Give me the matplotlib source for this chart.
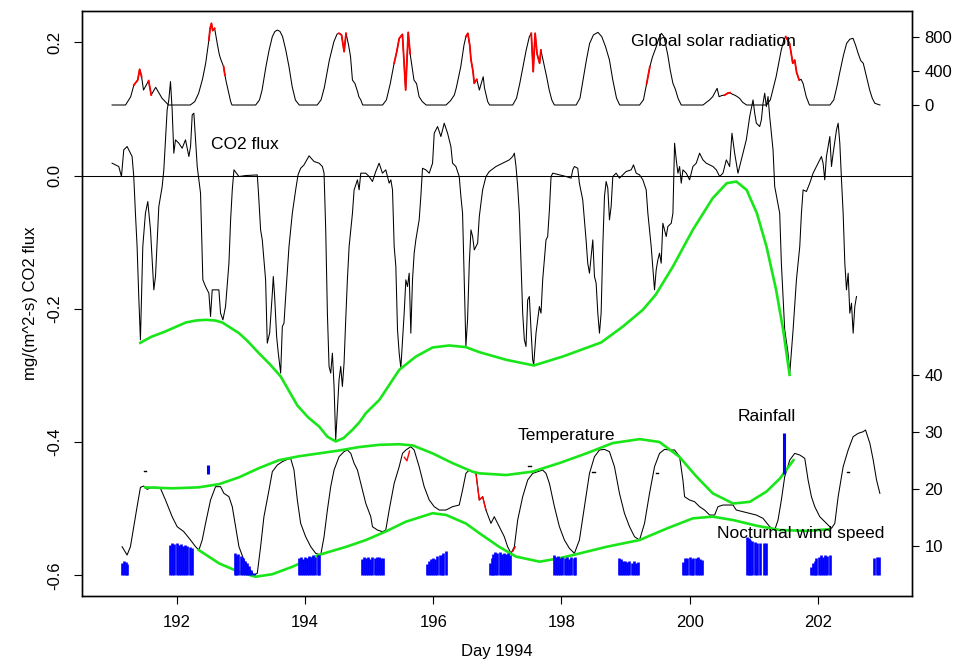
import numpy as np
import matplotlib
matplotlib.use("Agg")
import matplotlib.pyplot as plt

plt.rcParams['font.family'] = ['Liberation Sans', 'DejaVu Sans']
plt.rcParams['font.size'] = 12

# ---- CO2 flux, mg/(m^2-s) ----
co2_day = [190.99, 191.094, 191.136, 191.172, 191.224, 191.276, 191.302, 191.328, 191.354, 191.38,
           191.406, 191.432, 191.469, 191.51, 191.547, 191.589, 191.641, 191.667, 191.719, 191.771,
           191.797, 191.849, 191.875, 191.901, 191.927, 191.953, 191.979, 192.031, 192.083, 192.135,
           192.188, 192.214, 192.24, 192.266, 192.292, 192.318, 192.344, 192.37, 192.406, 192.448,
           192.5, 192.526, 192.552, 192.604, 192.656, 192.682, 192.719, 192.76, 192.813, 192.839,
           192.865, 192.891, 192.969, 193.073, 193.255, 193.271, 193.307, 193.333, 193.385, 193.411,
           193.448, 193.49, 193.505, 193.526, 193.557, 193.583, 193.62, 193.646, 193.672, 193.698,
           193.75, 193.802, 193.854, 193.891, 193.932, 193.984, 194.063, 194.141, 194.219, 194.271,
           194.297, 194.323, 194.349, 194.375, 194.401, 194.427, 194.453, 194.479, 194.505, 194.531,
           194.557, 194.583, 194.609, 194.635, 194.661, 194.688, 194.74, 194.766, 194.818, 194.844,
           194.87, 194.948, 195.0, 195.052, 195.104, 195.156, 195.208, 195.26, 195.313, 195.339,
           195.365, 195.391, 195.417, 195.443, 195.469, 195.495, 195.547, 195.573, 195.599, 195.625,
           195.651, 195.677, 195.703, 195.729, 195.781, 195.807, 195.833, 195.885, 195.938, 195.99,
           196.016, 196.068, 196.12, 196.172, 196.224, 196.276, 196.302, 196.354, 196.406, 196.432,
           196.458, 196.484, 196.51, 196.536, 196.563, 196.589, 196.615, 196.641, 196.693, 196.719,
           196.771, 196.823, 196.875, 196.979, 197.083, 197.188, 197.24, 197.266, 197.292, 197.318,
           197.344, 197.37, 197.396, 197.422, 197.448, 197.474, 197.5, 197.526, 197.552, 197.568,
           197.604, 197.656, 197.682, 197.708, 197.76, 197.786, 197.813, 197.839, 197.865, 197.969,
           198.073, 198.151, 198.177, 198.203, 198.255, 198.281, 198.333, 198.385, 198.411, 198.438,
           198.49, 198.516, 198.542, 198.568, 198.594, 198.62, 198.646, 198.672, 198.698, 198.724,
           198.75, 198.776, 198.802, 198.854, 198.906, 198.958, 199.01, 199.089, 199.125, 199.167,
           199.219, 199.271, 199.323, 199.349, 199.401, 199.453, 199.479, 199.505, 199.531, 199.557,
           199.583, 199.635, 199.661, 199.714, 199.74, 199.766, 199.792, 199.818, 199.844, 199.87,
           199.896, 199.948, 200.0, 200.052, 200.104, 200.156, 200.208, 200.26, 200.365, 200.417,
           200.469, 200.521, 200.573, 200.625, 200.661, 200.703, 200.755, 200.781, 200.833, 200.885,
           200.938, 200.99, 201.016, 201.042, 201.094, 201.12, 201.146, 201.172, 201.198, 201.224,
           201.25, 201.302, 201.328, 201.406, 201.432, 201.458, 201.484, 201.536, 201.563, 201.615,
           201.667, 201.719, 201.745, 201.771, 201.823, 201.875, 201.927, 201.979, 202.031, 202.057,
           202.083, 202.109, 202.135, 202.188, 202.214, 202.24, 202.292, 202.318, 202.344, 202.37,
           202.396, 202.422, 202.448, 202.474, 202.5, 202.526, 202.552, 202.578, 202.604]
co2_flux = [0.0186, 0.0136, -0.0014, 0.0386, 0.0436, 0.0336, 0.0286, -0.0014, -0.0565, -0.1065,
            -0.1815, -0.2465, -0.1065, -0.0565, -0.039, -0.0815, -0.1715, -0.1515, -0.0465, -0.0165,
            0.0086, 0.0986, 0.1136, 0.1411, 0.0986, 0.0336, 0.0536, 0.0486, 0.041, 0.0536,
            0.0286, 0.0436, 0.0911, 0.0936, 0.0536, 0.0136, -0.0064, -0.0265, -0.1565, -0.1665,
            -0.1765, -0.2115, -0.1715, -0.1715, -0.1715, -0.2065, -0.2165, -0.1965, -0.1315, -0.0665,
            -0.0215, 0.0086, -0.0014, 0.0, 0.001, -0.0215, -0.0815, -0.0965, -0.1565, -0.2515,
            -0.2365, -0.1765, -0.1515, -0.1815, -0.2415, -0.2665, -0.2965, -0.2265, -0.2215, -0.1815,
            -0.1065, -0.0565, -0.0215, 0.001, 0.011, 0.016, 0.0296, 0.0211, 0.0186, 0.0136,
            0.0036, -0.0815, -0.2065, -0.2865, -0.2965, -0.2665, -0.3165, -0.3965, -0.3515, -0.3065,
            -0.2865, -0.3165, -0.2815, -0.2165, -0.1565, -0.1065, -0.0565, -0.0215, -0.0064, -0.0214,
            0.0036, 0.0036, -0.0014, -0.0089, 0.0061, 0.0186, 0.0036, 0.0086, -0.0114, -0.0064,
            -0.0215, -0.1065, -0.1365, -0.2315, -0.2665, -0.289, -0.2065, -0.1565, -0.1665, -0.1465,
            -0.2365, -0.1565, -0.1165, -0.0965, -0.0665, -0.0315, 0.011, 0.0086, 0.0036, 0.0186,
            0.0636, 0.0736, 0.0586, 0.0786, 0.0636, 0.0436, 0.0186, 0.0136, -0.0014, -0.0315,
            -0.0565, -0.1565, -0.2565, -0.2165, -0.1315, -0.0815, -0.0915, -0.1115, -0.1015, -0.0615,
            -0.0215, -0.0014, 0.0061, 0.0136, 0.0186, 0.0236, 0.0286, 0.0336, 0.0136, -0.0165,
            -0.0565, -0.1315, -0.2065, -0.2465, -0.2565, -0.1865, -0.1815, -0.2315, -0.2765, -0.284,
            -0.2365, -0.1965, -0.2065, -0.1565, -0.0965, -0.0915, -0.0515, -0.0014, 0.0036, 0.0011,
            -0.0014, -0.0039, 0.0086, 0.0136, 0.011, -0.0115, -0.0365, -0.0965, -0.1315, -0.1465,
            -0.0965, -0.1515, -0.1615, -0.2065, -0.2365, -0.2065, -0.1065, -0.0315, -0.0089, -0.0189,
            -0.0665, -0.0465, -0.0014, 0.0036, -0.0039, 0.0011, 0.0061, 0.0086, 0.0161, 0.0036,
            0.0011, -0.0064, -0.0215, -0.0565, -0.1065, -0.1715, -0.1415, -0.1265, -0.1165, -0.1315,
            -0.0715, -0.0915, -0.0765, -0.0715, -0.0565, 0.0486, 0.0236, 0.0036, 0.0136, -0.0114,
            0.0086, 0.0036, -0.0064, 0.0136, 0.0186, 0.0336, 0.0236, 0.0186, 0.0136, 0.0086,
            -0.0014, 0.0036, 0.0236, 0.0136, 0.0636, 0.0336, 0.0036, 0.0136, 0.0336, 0.0536,
            0.0886, 0.1136, 0.0936, 0.0786, 0.0736, 0.0836, 0.1086, 0.1236, 0.1036, 0.1186,
            0.0886, 0.0386, -0.0164, -0.0565, -0.1315, -0.1815, -0.2315, -0.2665, -0.2965, -0.2315,
            -0.1565, -0.1065, -0.0565, -0.0215, -0.0239, -0.0114, 0.0036, 0.0136, 0.0236, 0.0286,
            0.0186, -0.0064, 0.0286, 0.0586, 0.0136, 0.0336, 0.0686, 0.0786, 0.0486, -0.0064,
            -0.0565, -0.1315, -0.1715, -0.1465, -0.2065, -0.1915, -0.2365, -0.1965, -0.1815]

# smooth envelope through the daily CO2 minima
co2_env_day = [191.43, 191.6, 191.82, 192.14, 192.3, 192.45, 192.6, 192.71, 192.97, 193.1,
               193.28, 193.45, 193.62, 193.88, 194.05, 194.22, 194.35, 194.48, 194.6, 194.74,
               194.85, 194.95, 195.16, 195.47, 195.73, 195.99, 196.25, 196.51, 196.72, 197.14,
               197.57, 198.02, 198.62, 198.96, 199.27, 199.47, 199.74, 200.05, 200.36, 200.58,
               200.73, 200.89, 201.05, 201.2, 201.35, 201.46, 201.56]
co2_env = [-0.251, -0.242, -0.234, -0.2205, -0.2175, -0.2165, -0.2175, -0.2205, -0.2365, -0.248,
           -0.2665, -0.283, -0.3015, -0.345, -0.363, -0.3766, -0.392, -0.399, -0.394, -0.3815,
           -0.370, -0.3565, -0.3366, -0.2915, -0.2716, -0.258, -0.255, -0.2575, -0.265, -0.2765,
           -0.285, -0.2716, -0.2505, -0.2265, -0.2015, -0.179, -0.1365, -0.0815, -0.034, -0.0114,
           -0.009, -0.0215, -0.0565, -0.1065, -0.1715, -0.2315, -0.299]

# ---- global solar radiation, W/m^2 ----
solar_day = [190.99, 191.20, 191.28, 191.33, 191.39, 191.42, 191.45, 191.48, 191.56, 191.60,
             191.67, 191.77, 191.87,
             192.21, 192.28, 192.34, 192.40, 192.45, 192.50, 192.52, 192.54, 192.56, 192.59, 192.63,
             192.66, 192.68, 192.73, 192.75, 192.77, 192.81, 192.84, 192.86,
             193.23, 193.29, 193.33, 193.39, 193.44, 193.49, 193.53, 193.57, 193.61, 193.65, 193.70,
             193.75, 193.80, 193.85, 193.91,
             194.19, 194.25, 194.30, 194.38, 194.45, 194.50, 194.53, 194.57, 194.61, 194.64, 194.68,
             194.71, 194.74, 194.78, 194.82, 194.84, 194.87, 194.90,
             195.21, 195.27, 195.33, 195.39, 195.43, 195.47, 195.52, 195.57, 195.61, 195.64, 195.67,
             195.70, 195.74, 195.78, 195.83, 195.89,
             196.20, 196.27, 196.33, 196.36, 196.43, 196.48, 196.51, 196.54, 196.57, 196.59, 196.62,
             196.64, 196.68, 196.72, 196.78, 196.80, 196.82, 196.85, 196.88,
             197.24, 197.30, 197.35, 197.40, 197.45, 197.50, 197.53, 197.56, 197.59, 197.62, 197.66,
             197.68, 197.73, 197.77, 197.81, 197.85, 197.89,
             198.23, 198.29, 198.34, 198.39, 198.44, 198.50, 198.57, 198.63, 198.69, 198.75, 198.80,
             198.86, 198.91,
             199.22, 199.28, 199.33, 199.38, 199.42, 199.48, 199.52, 199.56, 199.60, 199.66, 199.70,
             199.74, 199.78, 199.82, 199.87,
             200.21, 200.26, 200.31, 200.36, 200.43, 200.46, 200.50, 200.55, 200.60, 200.63, 200.67,
             200.70, 200.74, 200.78, 200.83, 200.89,
             201.20, 201.26, 201.30, 201.35, 201.43, 201.47, 201.50, 201.53, 201.56, 201.61, 201.64,
             201.67, 201.71, 201.74, 201.77, 201.82, 201.87,
             202.19, 202.25, 202.30, 202.34, 202.40, 202.45, 202.50, 202.55, 202.59, 202.63, 202.67,
             202.71, 202.76, 202.81, 202.85, 202.89, 202.97]
solar_wm2 = [0, 0, 97, 234, 292, 418, 331, 175, 285, 117,
             207, 78, 0,
             0, 40, 137, 300, 488, 760, 900, 956, 870, 897, 721,
             600, 546, 448, 350, 273, 137, 40, 0,
             0, 60, 175, 448, 643, 800, 860, 877, 860, 800, 643,
             448, 214, 58, 0,
             0, 60, 200, 526, 740, 830, 839, 820, 624, 839, 700,
             565, 292, 250, 156, 97, 60, 0,
             0, 60, 250, 488, 620, 780, 827, 175, 850, 600, 448,
             292, 250, 97, 40, 0,
             0, 50, 117, 200, 448, 700, 800, 839, 700, 526, 400,
             254, 300, 175, 331, 200, 137, 40, 0,
             0, 80, 250, 448, 640, 800, 839, 390, 839, 600, 488,
             643, 468, 330, 175, 60, 0,
             0, 80, 300, 526, 720, 820, 850, 800, 680, 526, 300,
             80, 0,
             0, 60, 250, 448, 560, 682, 780, 839, 800, 585, 400,
             254, 180, 78, 0,
             0, 30, 58, 97, 195, 97, 110, 117, 140, 144, 125,
             117, 100, 78, 30, 0,
             0, 60, 180, 331, 643, 760, 800, 760, 721, 488, 526,
             380, 292, 300, 254, 97, 0,
             0, 60, 220, 370, 580, 721, 770, 780, 700, 604, 520,
             488, 330, 175, 80, 20, 0]

# red highlighted parts of the radiation trace (gaps marked with nan)
nan = np.nan
solar_red_day = [191.33, 191.39, 191.42, 191.45, nan, 191.56, 191.60, nan,
                 192.50, 192.52, 192.54, 192.56, 192.59, nan, 192.73, 192.75, nan,
                 194.53, 194.57, 194.61, 194.64, nan,
                 195.39, 195.43, 195.47, 195.52, 195.57, 195.61, 195.64, nan,
                 196.51, 196.54, 196.57, 196.59, 196.62, 196.64, 196.68, nan,
                 197.53, 197.56, 197.59, 197.62, 197.66, 197.68, nan,
                 199.33, 199.38, nan, 200.55, 200.60, 200.63, nan,
                 201.50, 201.53, 201.56, 201.61, 201.64, 201.67, 201.71]
solar_red = [234, 292, 418, 331, nan, 285, 117, nan,
             760, 900, 956, 870, 897, nan, 448, 350, nan,
             839, 820, 624, 839, nan,
             488, 620, 780, 827, 175, 850, 600, nan,
             800, 839, 700, 526, 400, 254, 300, nan,
             839, 390, 839, 600, 488, 643, nan,
             250, 448, nan, 117, 140, 144, nan,
             800, 760, 721, 488, 526, 380, 292]

# ---- air temperature, deg C ----
temp_day = [191.146, 191.224, 191.276, 191.328, 191.38, 191.432, 191.484, 191.536, 191.615, 191.693,
            191.745, 191.823, 191.927, 192.005, 192.109, 192.214, 192.292, 192.344, 192.396, 192.448,
            192.526, 192.604, 192.682, 192.734, 192.813, 192.865, 192.917, 192.969, 193.047, 193.125,
            193.203, 193.255, 193.307, 193.359, 193.438, 193.49, 193.568, 193.646, 193.724, 193.776,
            193.828, 193.88, 193.932, 194.01, 194.089, 194.167, 194.245, 194.297, 194.349, 194.401,
            194.453, 194.531, 194.609, 194.661, 194.714, 194.766, 194.818, 194.87, 194.948, 195.026,
            195.052, 195.13, 195.208, 195.26, 195.313, 195.391, 195.469, 195.521, 195.573, 195.651,
            195.703, 195.781, 195.859, 195.938, 196.016, 196.094, 196.198, 196.302, 196.406, 196.458,
            196.51, 196.563, 196.667, 196.719, 196.771, 196.823, 196.901, 196.953, 197.031, 197.109,
            197.161, 197.214, 197.266, 197.318, 197.396, 197.474, 197.552, 197.63, 197.708, 197.76,
            197.813, 197.891, 197.969, 198.047, 198.125, 198.203, 198.281, 198.359, 198.438, 198.516,
            198.594, 198.672, 198.75, 198.828, 198.906, 198.984, 199.063, 199.141, 199.219, 199.297,
            199.375, 199.453, 199.531, 199.609, 199.688, 199.766, 199.844, 199.896, 199.922, 200.0,
            200.078, 200.156, 200.234, 200.313, 200.391, 200.443, 200.521, 200.677, 200.729, 200.833,
            200.938, 201.042, 201.146, 201.25, 201.328, 201.38, 201.432, 201.484, 201.563, 201.641,
            201.719, 201.797, 201.849, 201.901, 201.953, 202.031, 202.109, 202.161, 202.214, 202.266,
            202.318, 202.396, 202.474, 202.552, 202.63, 202.708, 202.745, 202.813, 202.865, 202.917,
            202.969]
temp_c = [9.83, 8.37, 9.83, 13.34, 16.85, 20.24, 20.47, 19.89, 20.24, 20.24,
          20.06, 18.02, 15.09, 13.34, 12.46, 11.0, 9.83, 9.24, 11.0, 13.92,
          18.02, 20.36, 20.36, 19.19, 18.6, 16.85, 13.34, 9.83, 7.49, 6.03,
          4.86, 5.15, 9.83, 15.09, 19.77, 22.99, 24.16, 24.74, 25.15, 25.33,
          23.28, 18.02, 13.92, 11.58, 9.83, 8.66, 8.37, 11.58, 16.26, 20.36,
          23.28, 25.62, 26.5, 26.79, 26.2, 24.45, 23.28, 20.94, 17.43, 15.09,
          13.34, 12.75, 12.46, 12.75, 16.26, 20.94, 23.86, 26.2, 26.79, 27.37,
          26.79, 23.86, 20.36, 18.02, 16.85, 16.26, 16.26, 16.85, 17.14, 19.77,
          22.69, 23.28, 22.69, 18.02, 18.6, 16.26, 13.92, 15.09, 13.34, 11.58,
          9.83, 8.66, 9.83, 14.51, 18.6, 21.52, 22.69, 22.99, 23.28, 22.69,
          20.94, 16.85, 13.34, 11.0, 9.54, 8.66, 11.0, 16.85, 22.69, 25.62,
          26.79, 26.9, 26.5, 23.86, 19.19, 15.68, 13.34, 11.58, 11.0, 13.92,
          19.19, 23.86, 26.2, 26.9, 26.79, 26.79, 25.62, 21.52, 18.6, 18.02,
          17.72, 16.85, 16.26, 15.38, 15.38, 16.85, 17.14, 17.14, 16.26, 15.97,
          15.68, 15.38, 14.8, 13.34, 12.75, 14.51, 18.02, 22.11, 25.03, 26.2,
          25.91, 25.33, 21.52, 18.6, 16.85, 15.09, 14.21, 13.63, 13.05, 13.92,
          18.6, 23.86, 26.79, 29.13, 29.71, 30.0, 30.3, 27.96, 25.03, 21.52,
          19.19]

temp_red_day = [195.55, 195.59, 195.63, nan, 196.667, 196.719, 196.771, 196.823, nan, 197.24, 197.28]
temp_red = [25.5, 24.9, 26.6, nan, 22.69, 18.02, 18.6, 16.26, nan, 9.0, 9.8]

temp_max_day = [191.51, 191.93, 192.34, 192.66, 192.97, 193.28, 193.59, 193.91, 194.22, 194.53,
                194.84, 195.16, 195.47, 195.68, 195.99, 196.3, 196.61, 196.72, 197.14, 197.55,
                197.97, 198.39, 198.8, 199.22, 199.53, 199.84, 200.11, 200.36, 200.68, 200.94,
                201.2, 201.41, 201.62]
temp_max_env = [20.24, 20.07, 20.24, 20.8, 22.0, 23.6, 25.0, 25.7, 26.2, 26.7,
                27.3, 27.7, 27.8, 27.6, 26.2, 24.5, 23.0, 22.7, 22.4, 23.0,
                24.5, 26.2, 28.0, 28.7, 28.2, 25.6, 22.1, 19.2, 17.4, 17.7,
                19.5, 21.8, 25.0]

temp_min_day = [192.34, 192.66, 192.97, 193.23, 193.49, 193.8, 194.22, 194.64, 194.95, 195.26,
                195.57, 195.99, 196.2, 196.51, 196.72, 197.03, 197.29, 197.66, 197.97, 198.23,
                198.7, 199.22, 199.64, 200.05, 200.36, 200.68, 201.05, 201.41, 201.82, 202.19]
temp_min_env = [9.25, 6.9, 5.4, 4.56, 5.0, 6.3, 8.4, 9.8, 11.0, 12.5,
                14.2, 15.7, 15.4, 13.9, 12.2, 9.8, 8.1, 7.2, 7.8, 8.5,
                9.8, 11.0, 13.0, 14.8, 15.1, 14.5, 13.5, 12.75, 12.6, 12.9]

# ---- nocturnal wind speed (bars standing on the -0.6 line) ----
wind_base = 4.86
wind_day = [191.14, 191.17, 191.20, 191.22,
            191.90, 191.93, 191.96, 192.00, 192.03, 192.06, 192.10, 192.13, 192.16, 192.20, 192.23,
            192.90, 192.93, 192.96, 193.00, 193.03, 193.06, 193.10, 193.13, 193.16, 193.20,
            193.91, 193.94, 193.97, 194.00, 194.03, 194.06, 194.10, 194.13, 194.16, 194.20, 194.22,
            194.89, 194.92, 194.95, 194.98, 195.02, 195.05, 195.09, 195.12, 195.15, 195.19, 195.22,
            195.90, 195.93, 195.96, 196.00, 196.03, 196.06, 196.10, 196.13, 196.16, 196.20,
            196.88, 196.91, 196.94, 196.97, 197.00, 197.04, 197.07, 197.10, 197.14, 197.17, 197.20,
            197.88, 197.91, 197.95, 197.98, 198.01, 198.05, 198.08, 198.12, 198.15, 198.19, 198.22,
            198.90, 198.93, 198.96, 199.00, 199.03, 199.06, 199.10, 199.13, 199.16, 199.20,
            199.90, 199.93, 199.96, 200.00, 200.03, 200.06, 200.10, 200.13, 200.16, 200.20,
            200.89, 200.92, 200.95, 200.98, 201.02, 201.05, 201.10, 201.16, 201.20,
            201.89, 201.92, 201.95, 201.98, 202.02, 202.05, 202.08, 202.12, 202.15, 202.19,
            202.88, 202.92, 202.96]
wind_top = [6.9, 7.3, 7.2, 6.8,
            10.2, 10.4, 10.3, 10.4, 10.1, 10.3, 10.0, 10.2, 10.0, 9.8, 9.6,
            8.7, 8.4, 8.6, 8.2, 7.9, 7.4, 6.9, 6.4, 5.8, 5.2,
            7.8, 8.0, 7.7, 8.1, 7.9, 8.2, 8.0, 8.3, 8.1, 8.4, 8.3,
            7.6, 8.0, 7.9, 8.1, 7.7, 8.0, 7.9, 8.1, 8.0, 7.8, 7.9,
            6.8, 7.3, 7.6, 7.9, 7.7, 8.2, 8.4, 8.3, 8.7, 9.1,
            6.9, 7.8, 8.6, 8.9, 8.7, 8.9, 8.6, 8.8, 8.5, 8.7, 8.4,
            8.3, 8.1, 8.2, 7.8, 8.0, 7.9, 8.1, 7.7, 8.0, 7.9, 8.0,
            7.9, 7.6, 7.3, 7.4, 7.1, 7.3, 7.0, 7.3, 7.0, 7.2,
            7.1, 7.9, 7.8, 8.0, 7.7, 7.9, 7.8, 8.0, 7.6, 7.5,
            11.6, 11.4, 11.0, 10.8, 10.6, 10.5, 10.5, 10.4, 10.4,
            6.2, 6.9, 7.4, 7.8, 8.1, 8.3, 8.1, 8.4, 8.2, 8.3,
            7.9, 8.1, 8.0]

# ---- rainfall (bars on the temperature scale) ----
rain_base = 22.6
rain_day = [192.49, 201.48]
rain_top = [24.2, 29.7]
rain_trace_day = [191.5, 197.5, 198.5, 199.49, 202.47]
rain_trace = [23.1, 23.9, 22.9, 22.8, 22.9]

# ---------------- figure ----------------
fig = plt.figure(figsize=(9.61, 6.70), dpi=100)
ax = fig.add_axes([0.0853, 0.1104, 0.8637, 0.8732])
ax_t = ax.twinx()
ax_s = ax.twinx()

ax.set_xlim(190.52, 203.47)
ax.set_ylim(-0.631, 0.247)
ax_t.set_ylim(1.175, 103.8)
ax_s.set_ylim(-5745, 1100)

lw = 0.75
green = '#19e619'

# CO2 flux
ax.axhline(0, color='black', lw=lw)
ax.plot(co2_day, co2_flux, color='black', lw=lw)
ax.plot(co2_env_day, co2_env, color=green, lw=1.9)

# radiation
ax_s.plot(solar_day, solar_wm2, color='black', lw=lw)
ax_s.plot(solar_red_day, solar_red, color='red', lw=1.3)

# temperature + envelopes
ax_t.plot(temp_day, temp_c, color='black', lw=lw)
ax_t.plot(temp_red_day, temp_red, color='red', lw=1.0)
ax_t.plot(temp_max_day, temp_max_env, color=green, lw=1.9)
ax_t.plot(temp_min_day, temp_min_env, color=green, lw=1.9)

# wind and rain bars
ax_t.vlines(wind_day, wind_base, wind_top, color='blue', lw=1.9)
ax_t.vlines(rain_day, rain_base, rain_top, color='blue', lw=2.2)
for d, v in zip(rain_trace_day, rain_trace):
    ax_t.plot([d - 0.02, d + 0.02], [v, v], color='black', lw=1.0)

# labels inside the plot
ax_s.text(200.375, 800 - 55, 'Global solar radiation', ha='center', va='center', fontsize=12.5)
ax.text(193.06, 0.046, 'CO2 flux', ha='center', va='center', fontsize=12.5)
ax_t.text(198.08, 29.4, 'Temperature', ha='center', va='center', fontsize=12.5)
ax_t.text(201.2, 32.6, 'Rainfall', ha='center', va='center', fontsize=12.5)
ax_t.text(201.73, 12.2, 'Nocturnal wind speed', ha='center', va='center', fontsize=12.5)

# axes
ax.set_xticks([192, 194, 196, 198, 200, 202])
ax.set_yticks([-0.6, -0.4, -0.2, 0.0, 0.2])
ax.set_yticklabels(['-0.6', '-0.4', '-0.2', '0.0', '0.2'], rotation=90, va='center')
ax.tick_params(axis='both', direction='out', length=6, width=0.8, labelsize=12)
ax.tick_params(axis='y', pad=8)
ax.tick_params(axis='x', pad=8)
ax.set_xlabel('Day 1994', fontsize=12, labelpad=10)
ax.set_ylabel('mg/(m^2-s) CO2 flux', fontsize=12, labelpad=7)

ax_t.set_yticks([10, 20, 30, 40])
ax_s.set_yticks([0, 400, 800])
for a in (ax_t, ax_s):
    a.tick_params(axis='y', direction='out', length=5, width=0.8, labelsize=12, pad=4)
for a in (ax, ax_t, ax_s):
    for s in a.spines.values():
        s.set_linewidth(0.9)

fig.savefig('out.png', dpi=100)
